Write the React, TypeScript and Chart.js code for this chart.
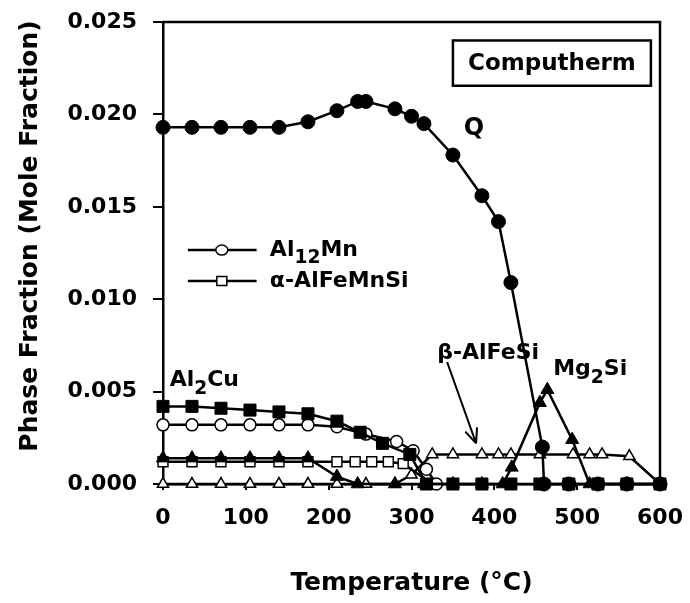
import React, { useEffect, useRef } from "react";
import { Chart, registerables } from "chart.js";
Chart.register(...registerables);

const FONT = "'DejaVu Sans', 'Liberation Sans', sans-serif";

// Axis ticks
const xTicks = [0, 100, 200, 300, 400, 500, 600];
const yTicks = [0, 0.005, 0.01, 0.015, 0.02, 0.025];

// Q phase (filled circles)
const qTemp = [0, 35, 70, 105, 140, 175, 210, 235, 245, 280, 300, 315, 350, 385, 405, 420, 458, 460, 490, 525, 560, 600];
const qFrac = [0.0193, 0.0193, 0.0193, 0.0193, 0.0193, 0.0196, 0.0202, 0.0207, 0.0207, 0.0203, 0.0199, 0.0195, 0.0178, 0.0156, 0.0142, 0.0109, 0.002, 0, 0, 0, 0, 0];

// Al2Cu (filled squares)
const cuTemp = [0, 35, 70, 105, 140, 175, 210, 238, 265, 298, 318, 350, 385, 420, 455, 490, 525, 560, 600];
const cuFrac = [0.0042, 0.0042, 0.0041, 0.004, 0.0039, 0.0038, 0.0034, 0.0028, 0.0022, 0.0016, 0, 0, 0, 0, 0, 0, 0, 0, 0];

// Mg2Si (filled triangles)
const mgTemp = [0, 35, 70, 105, 140, 175, 210, 235, 280, 315, 350, 385, 410, 421, 455, 464, 494, 515, 560, 600];
const mgFrac = [0.0014, 0.0014, 0.0014, 0.0014, 0.0014, 0.0014, 0.0004, 0, 0, 0, 0, 0, 0, 0.0009, 0.0044, 0.0051, 0.0024, 0, 0, 0];

// Al12Mn (open circles)
const mnTemp = [0, 35, 70, 105, 140, 175, 210, 245, 282, 302, 318, 330];
const mnFrac = [0.0032, 0.0032, 0.0032, 0.0032, 0.0032, 0.0032, 0.0031, 0.0027, 0.0023, 0.0018, 0.0008, 0];

// alpha-AlFeMnSi (open squares)
const alphaTemp = [0, 35, 70, 105, 140, 175, 210, 232, 252, 272, 290, 325];
const alphaFrac = [0.0012, 0.0012, 0.0012, 0.0012, 0.0012, 0.0012, 0.0012, 0.0012, 0.0012, 0.0012, 0.0011, 0];

// beta-AlFeSi (open triangles)
const betaTemp = [0, 35, 70, 105, 140, 175, 210, 245, 280, 300, 325, 350, 385, 405, 420, 455, 495, 515, 530, 563, 600];
const betaFrac = [0, 0, 0, 0, 0, 0, 0, 0, 0, 0.0005, 0.0016, 0.0016, 0.0016, 0.0016, 0.0016, 0.0016, 0.0016, 0.0016, 0.0016, 0.0015, 0];

const pts = (xs: number[], ys: number[]) => xs.map((x, i) => ({ x, y: ys[i] }));

type Part = [string, number]; // text, 0 normal / 1 subscript

function drawRich(ctx: CanvasRenderingContext2D, parts: Part[], x: number, y: number, size: number) {
  let cx = x;
  for (const [t, sub] of parts) {
    const s = sub ? size * 0.85 : size;
    ctx.font = `bold ${s}px ${FONT}`;
    ctx.fillText(t, cx, sub ? y + size * 0.38 : y);
    cx += ctx.measureText(t).width;
  }
}

const overlay = {
  id: "overlay",
  afterDraw(chart: any) {
    const { ctx, chartArea: a, scales } = chart;
    const X = (v: number) => scales.x.getPixelForValue(v);
    const Y = (v: number) => scales.y.getPixelForValue(v);
    ctx.save();
    ctx.fillStyle = "#000";
    ctx.strokeStyle = "#000";
    // frame (top and right)
    ctx.lineWidth = 2.5;
    ctx.beginPath();
    ctx.moveTo(a.left, a.top);
    ctx.lineTo(a.right, a.top);
    ctx.lineTo(a.right, a.bottom);
    ctx.stroke();

    // Computherm box
    const bx1 = X(350), bx2 = X(589), by1 = Y(0.024), by2 = Y(0.02155);
    ctx.lineWidth = 2.5;
    ctx.strokeRect(bx1, by1, bx2 - bx1, by2 - by1);
    ctx.textBaseline = "middle";
    ctx.textAlign = "center";
    ctx.font = `bold 23px ${FONT}`;
    ctx.fillText("Computherm", (bx1 + bx2) / 2, (by1 + by2) / 2 + 1);

    // Labels
    ctx.textAlign = "left";
    ctx.font = `bold 24px ${FONT}`;
    ctx.fillText("Q", X(363), Y(0.0192));
    drawRich(ctx, [["Al", 0], ["2", 1], ["Cu", 0]], X(8), Y(0.0056), 22);
    drawRich(ctx, [["β-AlFeSi", 0]], X(331), Y(0.0071), 22);
    drawRich(ctx, [["Mg", 0], ["2", 1], ["Si", 0]], X(471), Y(0.0062), 22);

    // arrow for beta-AlFeSi
    const ax1 = X(343), ay1 = Y(0.0066), ax2 = X(378), ay2 = Y(0.0022);
    ctx.lineWidth = 2;
    ctx.beginPath();
    ctx.moveTo(ax1, ay1);
    ctx.lineTo(ax2, ay2);
    const ang = Math.atan2(ay2 - ay1, ax2 - ax1);
    const hl = 16;
    ctx.moveTo(ax2, ay2);
    ctx.lineTo(ax2 - hl * Math.cos(ang - 0.4), ay2 - hl * Math.sin(ang - 0.4));
    ctx.moveTo(ax2, ay2);
    ctx.lineTo(ax2 - hl * Math.cos(ang + 0.4), ay2 - hl * Math.sin(ang + 0.4));
    ctx.stroke();

    // Legend
    const rows: { y: number; label: Part[]; shape: string }[] = [
      { y: 0.01266, label: [["Al", 0], ["12", 1], ["Mn", 0]], shape: "circle" },
      { y: 0.01098, label: [["α-AlFeMnSi", 0]], shape: "rect" },
    ];
    for (const r of rows) {
      const yy = Y(r.y);
      ctx.lineWidth = 2.5;
      ctx.beginPath();
      ctx.moveTo(X(30), yy);
      ctx.lineTo(X(113), yy);
      ctx.stroke();
      const mx = X(71);
      ctx.fillStyle = "#fff";
      ctx.lineWidth = 1.5;
      ctx.beginPath();
      if (r.shape === "circle") ctx.ellipse(mx, yy, 6, 5, 0, 0, Math.PI * 2);
      else ctx.rect(mx - 5, yy - 4.5, 10, 9);
      ctx.fill();
      ctx.stroke();
      ctx.fillStyle = "#000";
      drawRich(ctx, r.label, X(129), yy, 22);
    }

    // Axis titles
    ctx.textAlign = "center";
    ctx.font = `bold 25px ${FONT}`;
    ctx.fillText("Temperature (°C)", (a.left + a.right) / 2, 583);
    ctx.translate(30, 236);
    ctx.rotate(-Math.PI / 2);
    ctx.fillText("Phase Fraction (Mole Fraction)", 0, 0);
    ctx.restore();
  },
};

export default function App() {
  const ref = useRef<HTMLCanvasElement>(null);
  useEffect(() => {
    const tickFont = { family: FONT, size: 22, weight: "bold" as const };
    const base = { showLine: true, borderColor: "#000", borderWidth: 2.5, pointBorderColor: "#000", clip: false as const };
    const chart = new Chart(ref.current!, {
      type: "scatter",
      data: {
        datasets: [
          { ...base, label: "Q", data: pts(qTemp, qFrac), pointStyle: "circle", pointRadius: 7, pointBackgroundColor: "#000", pointBorderWidth: 1 },
          { ...base, label: "Al2Cu", data: pts(cuTemp, cuFrac), pointStyle: "rect", pointRadius: 8.5, pointBackgroundColor: "#000", pointBorderWidth: 1 },
          { ...base, label: "Mg2Si", data: pts(mgTemp, mgFrac), pointStyle: "triangle", pointRadius: 7.5, pointBackgroundColor: "#000", pointBorderWidth: 1 },
          { ...base, label: "Al12Mn", data: pts(mnTemp, mnFrac), pointStyle: "circle", pointRadius: 6, pointBackgroundColor: "#fff", pointBorderWidth: 1.5 },
          { ...base, label: "α-AlFeMnSi", data: pts(alphaTemp, alphaFrac), pointStyle: "rect", pointRadius: 7, pointBackgroundColor: "#fff", pointBorderWidth: 1.5 },
          { ...base, label: "β-AlFeSi", data: pts(betaTemp, betaFrac), pointStyle: "triangle", pointRadius: 6.5, pointBackgroundColor: "#fff", pointBorderWidth: 1.5 },
        ],
      },
      options: {
        responsive: false,
        animation: false,
        layout: { padding: { top: 22, right: 30, left: 0, bottom: 0 } },
        plugins: { legend: { display: false }, tooltip: { enabled: false }, title: { display: false } },
        scales: {
          x: {
            type: "linear",
            min: 0,
            max: 600,
            afterFit: (s: any) => { s.height = 119; s.paddingLeft = 0; s.paddingRight = 0; },
            afterBuildTicks: (s: any) => { s.ticks = xTicks.map((v) => ({ value: v })); },
            grid: { drawOnChartArea: false, tickLength: 6, color: "#000", lineWidth: 2 },
            border: { color: "#000", width: 2.5 },
            ticks: { font: tickFont, color: "#000", padding: 15, maxRotation: 0, autoSkip: false },
          },
          y: {
            type: "linear",
            min: 0,
            max: 0.025,
            afterFit: (s: any) => { s.width = 163; s.paddingTop = 0; s.paddingBottom = 0; },
            afterBuildTicks: (s: any) => { s.ticks = yTicks.map((v) => ({ value: v })); },
            grid: { drawOnChartArea: false, tickLength: 10, color: "#000", lineWidth: 2 },
            border: { color: "#000", width: 2.5 },
            ticks: { font: tickFont, color: "#000", padding: 16, autoSkip: false, callback: (v: any) => Number(v).toFixed(3) },
          },
        },
      },
      plugins: [overlay],
    });
    return () => chart.destroy();
  }, []);
  return (
    <div style={{ position: "fixed", left: 0, top: 0, width: 690, height: 603, background: "#fff" }}>
      <canvas ref={ref} width={690} height={603} style={{ display: "block" }} />
    </div>
  );
}
